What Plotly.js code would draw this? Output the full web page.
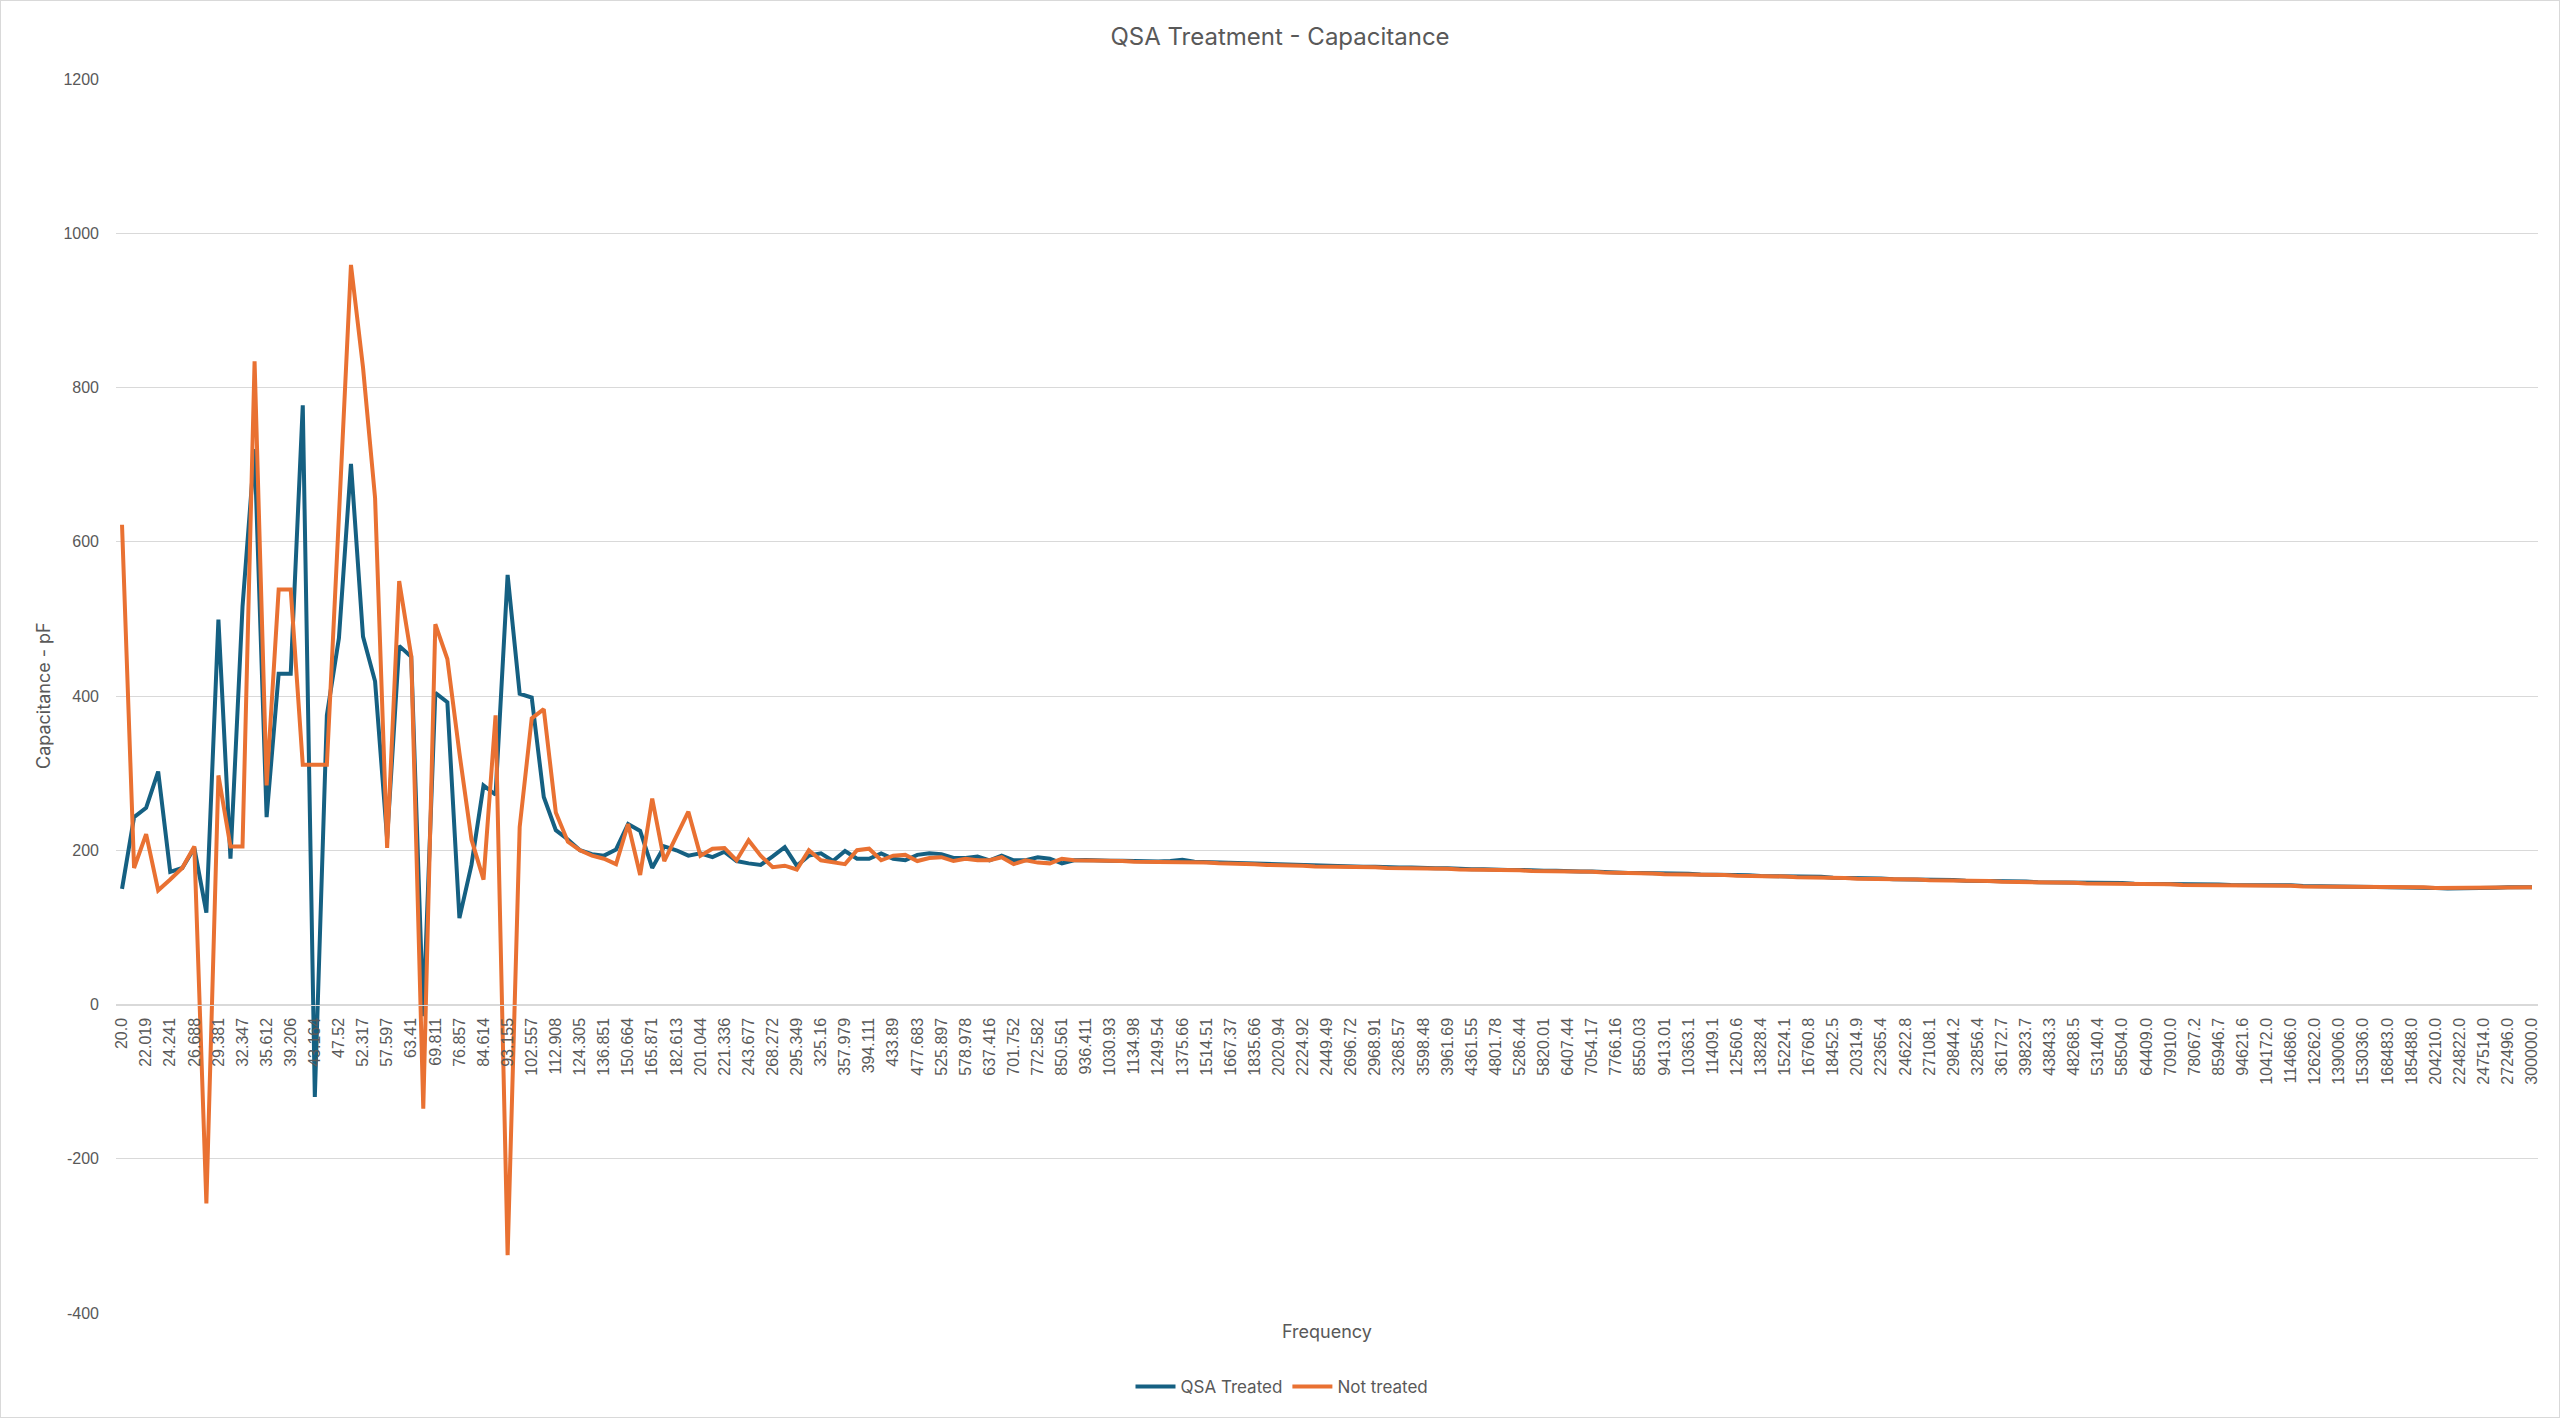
<!DOCTYPE html>
<html>
<head>
<meta charset="utf-8">
<script src="https://cdn.plot.ly/plotly-3.0.1.min.js"></script>
<style>
html,body{margin:0;padding:0;background:#fff;}
#wrap{position:relative;width:2560px;height:1418px;}
#chart{width:2560px;height:1418px;}
#frame{position:absolute;left:0;top:0;width:2558px;height:1416px;border:1px solid #d9d9d9;pointer-events:none;}
</style>
</head>
<body>
<div id="wrap"><div id="chart"></div><div id="frame"></div></div>
<script>
// Frequency tick labels (every second category is labelled)
const freqLabels = ["20.0","22.019","24.241","26.688","29.381","32.347","35.612","39.206","43.164","47.52","52.317","57.597","63.41","69.811","76.857","84.614","93.155","102.557","112.908","124.305","136.851","150.664","165.871","182.613","201.044","221.336","243.677","268.272","295.349","325.16","357.979","394.111","433.89","477.683","525.897","578.978","637.416","701.752","772.582","850.561","936.411","1030.93","1134.98","1249.54","1375.66","1514.51","1667.37","1835.66","2020.94","2224.92","2449.49","2696.72","2968.91","3268.57","3598.48","3961.69","4361.55","4801.78","5286.44","5820.01","6407.44","7054.17","7766.16","8550.03","9413.01","10363.1","11409.1","12560.6","13828.4","15224.1","16760.8","18452.5","20314.9","22365.4","24622.8","27108.1","29844.2","32856.4","36172.7","39823.7","43843.3","48268.5","53140.4","58504.0","64409.0","70910.0","78067.2","85946.7","94621.6","104172.0","114686.0","126262.0","139006.0","153036.0","168483.0","185488.0","204210.0","224822.0","247514.0","272496.0","300000.0"];

// QSA Treated capacitance (pF), 201 measurement points
const qsaTreated = [150,243,255,302,172,177,203,119,499,189,516,720,243,429,429,777,-120,375,475,701,
477,419,215,465,451,-15,404,392,112,181,284,272,557,403,398,269,226,214,200,195,
193,201,234,225,177,205,200,193,196,191,198,186,183,181,192,204,180,193,196,186,
199,189,189,196,189,187,194,196,195,190,190,192,187,193,187,187,191,189,183,187,
187.5,186.5,186.5,186.5,186,185.5,185.5,186,187.5,185,184.5,183.5,183.5,182.5,182.5,181.5,181.5,180.5,180.5,179.5,
179.5,179.5,178.5,178.5,178.5,177.5,177.5,177.5,176.5,176.5,176.5,175.5,175.5,175.5,174.5,174.5,174.5,173.5,173.5,173.5,
172.5,172.5,172.5,171.5,171.5,170.5,170.5,170.5,169.5,169.5,169.5,168.5,168.5,168.5,167.5,167.5,166.5,166.5,166.5,165.5,
165.5,165.5,164.5,164.5,163.5,163.5,163.5,162.5,162.5,162.5,161.5,161.5,161.5,160.5,160.5,160.5,159.5,159.5,159.5,158.5,
158.5,158.5,158.5,157.5,157.5,157.5,157.5,156.5,156.5,156.5,156.5,155.5,155.5,155.5,155.5,155,155,154.5,154.5,154.5,
154.5,153.5,153.5,153.5,153.5,153,152.5,152.5,152,152,151.5,151.5,151,150.5,150.5,150.5,151,151.5,152,152,152];

// Not treated capacitance (pF), 201 measurement points
const notTreated = [622,177,221,148,162,177,205,-258,297,205,205,834,284,538,538,311,311,311,633,959,
826,657,203,549,452,-135,493,448,326,214,162,375,-325,230,371,383,249,211,200,193,
189,182,234,168,267,186,218,250,193,202,203,187,213,193,178,180,175,200,187,184,
182,200,202,187,193,194,186,190,191,186,189,187,187,191,182,187,184,183,189,187,
187,186,186,186,185,185,185,185,185,184,184,183,183,182,182,181,181,180,180,179,
179,179,178,178,178,177,177,177,176,176,176,175,175,175,174,174,174,173,173,173,
172,172,172,171,171,170,170,170,169,169,169,168,168,168,167,167,166,166,166,165,
165,165,164,164,163,163,163,162,162,162,161,161,161,160,160,160,159,159,159,158,
158,158,158,157,157,157,157,156,156,156,156,155,155,155,155,155,155,154,154,154,
154,153,153,153,153,153,152,152,152,152,152,152,151,151,151,151,151,152,152,152,152];

const seriesNames = ["QSA Treated", "Not treated"];
const yTicks = [-400,-200,0,200,400,600,800,1000,1200];
const yTickText = ["-400","-200","0","200","400","600","800","1000","1200"];

const idx = qsaTreated.map((_, i) => i);
const tickIdx = freqLabels.map((_, i) => i * 2);

const gray = "#595959";
const traces = [
  {x: idx, y: qsaTreated, type: "scatter", mode: "lines", name: seriesNames[0],
   line: {color: "#156082", width: 4, shape: "linear"}},
  {x: idx, y: notTreated, type: "scatter", mode: "lines", name: seriesNames[1],
   line: {color: "#E97132", width: 4, shape: "linear"}}
];

const layout = {
  width: 2560, height: 1418,
  paper_bgcolor: "#ffffff", plot_bgcolor: "#ffffff",
  margin: {l: 116, r: 22, t: 79, b: 105},
  font: {family: "Liberation Sans, Arial, sans-serif", color: gray, size: 16},
  title: {text: "QSA Treatment - Capacitance", x: 0.5, xref: "container", xanchor: "center",
          y: 1 - 37/1418, yref: "container", yanchor: "middle",
          font: {family: "Inter, Roboto, sans-serif", size: 24, color: gray}},
  xaxis: {
    range: [-0.5, 200.5], anchor: "free", position: 0.25,
    tickmode: "array", tickvals: tickIdx, ticktext: freqLabels,
    tickangle: -90, tickfont: {size: 16, color: gray},
    showgrid: false, zeroline: false, showline: true, linecolor: "#d9d9d9", linewidth: 1,
    ticks: "", ticklabelstandoff: 6, fixedrange: true
  },
  yaxis: {
    range: [-400, 1200], tickmode: "array", tickvals: yTicks, ticktext: yTickText,
    tickfont: {size: 16, color: gray},
    showgrid: true, gridcolor: "#d9d9d9", gridwidth: 1,
    zeroline: true, zerolinecolor: "#d9d9d9", zerolinewidth: 1,
    showline: false, ticks: "", ticklabelstandoff: 16
  },
  showlegend: true,
  legend: {orientation: "h", x: (1282-116)/2422, xanchor: "center", y: (1313-1387)/1234, yanchor: "middle",
           font: {family: "Inter, Roboto, sans-serif", size: 17, color: gray}, itemwidth: 40, tracegroupgap: 0},
  annotations: [
    {text: "Frequency", xref: "paper", yref: "paper", x: 0.5, y: -18/1234, xanchor: "center", yanchor: "middle",
     showarrow: false, font: {family: "Inter, Roboto, sans-serif", size: 18, color: gray}},
    {text: "Capacitance - pF", xref: "paper", yref: "paper", x: -(116-43)/2422, y: 0.5, xanchor: "center", yanchor: "middle",
     textangle: -90, showarrow: false, font: {family: "Inter, Roboto, sans-serif", size: 18, color: gray}}
  ]
};

Plotly.newPlot("chart", traces, layout, {displayModeBar: false, staticPlot: true});
</script>
</body>
</html>
